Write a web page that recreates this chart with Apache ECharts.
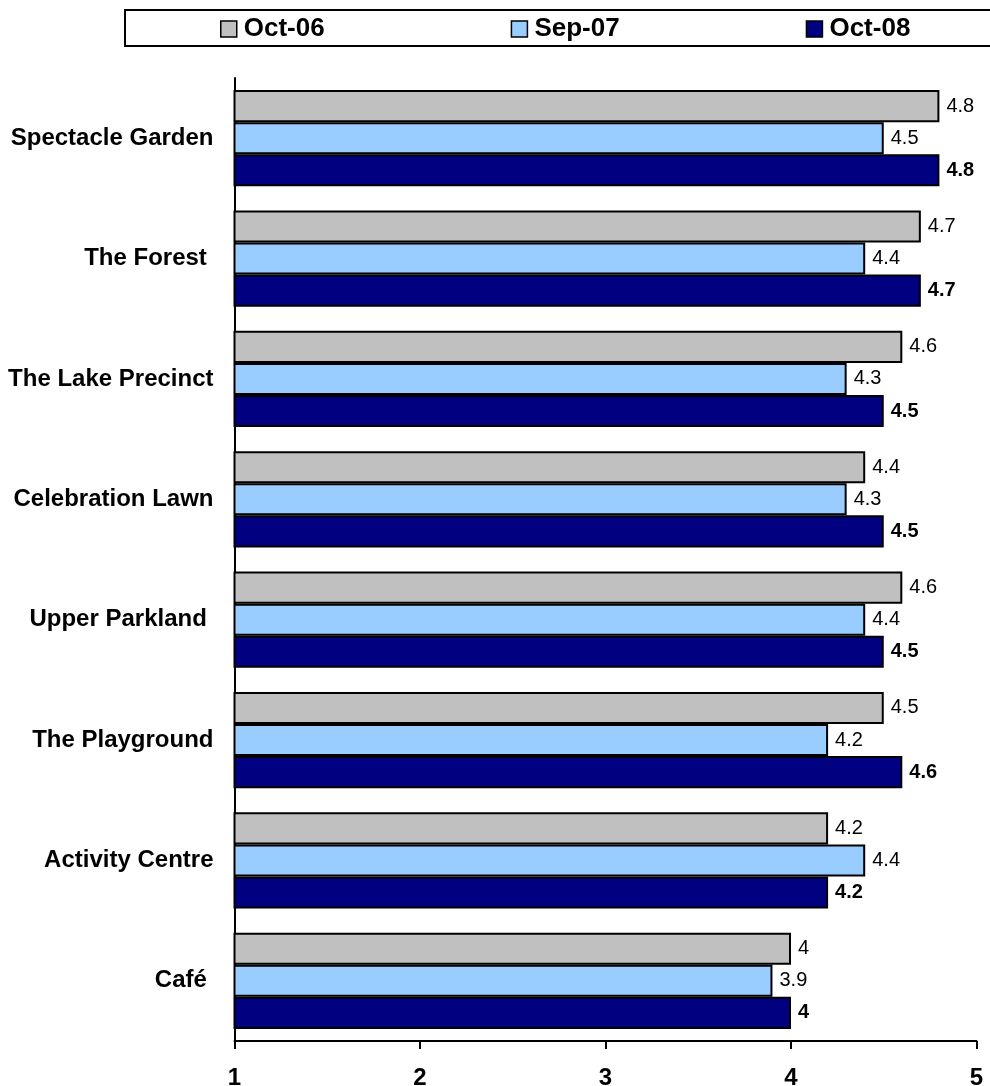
<!DOCTYPE html>
<html>
<head>
<meta charset="utf-8">
<title>Area ratings</title>
<script src="https://cdn.jsdelivr.net/npm/echarts@6/dist/echarts.min.js"></script>
<style>
  html, body { margin: 0; padding: 0; background: #fff; }
  #chart { width: 990px; height: 1086px; }
</style>
</head>
<body>
<div id="chart"></div>
<script>
// Park areas, top to bottom
const categories = [
  'Spectacle Garden',
  'The Forest ',
  'The Lake Precinct',
  'Celebration Lawn',
  'Upper Parkland ',
  'The Playground',
  'Activity Centre',
  'Café '
];

// Mean ratings per survey wave
const oct06 = [4.8, 4.7, 4.6, 4.4, 4.6, 4.5, 4.2, 4];
const sep07 = [4.5, 4.4, 4.3, 4.3, 4.4, 4.2, 4.4, 3.9];
const oct08 = [4.8, 4.7, 4.5, 4.5, 4.5, 4.6, 4.2, 4];

const seriesNames = ['Oct-06', 'Sep-07', 'Oct-08'];
const xTicks = [1, 2, 3, 4, 5];

const FONT = "'Liberation Sans', Arial, Helvetica, sans-serif";
const colors = ['#C0C0C0', '#99CCFF', '#000080'];

function barSeries(name, data, color, boldLabel) {
  return {
    name: name,
    type: 'bar',
    data: data,
    barGap: '0%',
    barCategoryGap: '20%',
    itemStyle: { color: color, borderColor: '#000', borderWidth: 2 },
    label: {
      show: true,
      position: 'right',
      distance: 7,
      color: '#000',
      fontFamily: FONT,
      fontSize: 20,
      fontWeight: boldLabel ? 'bold' : 'normal'
    },
    emphasis: { disabled: true },
    animation: false
  };
}

const chart = echarts.init(document.getElementById('chart'), null, { renderer: 'canvas' });

chart.setOption({
  backgroundColor: '#fff',
  animation: false,
  graphic: [{
    type: 'rect',
    z: -1,
    shape: { x: 125, y: 10, width: 900, height: 36 },
    style: { fill: '#fff', stroke: '#000', lineWidth: 2 }
  }],
  legend: {
    data: seriesNames,
    left: 220,
    top: 16,
    padding: 0,
    itemGap: 186,
    itemWidth: 16,
    itemHeight: 16,
    icon: 'rect',
    itemStyle: { borderColor: '#000', borderWidth: 1.5 },
    textStyle: {
      color: '#000',
      fontFamily: FONT,
      fontSize: 26,
      fontWeight: 'bold',
      padding: [0, 0, 0, 2]
    },
    selectedMode: false
  },
  grid: {
    left: 234.5,
    right: 13.5,
    top: 78,
    bottom: 45,
    containLabel: false,
    outerBoundsMode: 'none'
  },
  xAxis: {
    type: 'value',
    min: xTicks[0],
    max: xTicks[xTicks.length - 1],
    interval: 1,
    axisLine: { show: true, lineStyle: { color: '#000', width: 2 } },
    axisTick: { show: true, inside: false, length: 8, lineStyle: { color: '#000', width: 2 } },
    splitLine: { show: false },
    axisLabel: {
      margin: 25,
      color: '#000',
      fontFamily: FONT,
      fontSize: 24,
      fontWeight: 'bold'
    }
  },
  yAxis: {
    type: 'category',
    data: categories,
    inverse: true,
    axisLine: { show: true, lineStyle: { color: '#000', width: 2 } },
    axisTick: { show: false },
    splitLine: { show: false },
    axisLabel: {
      margin: 21,
      color: '#000',
      fontFamily: FONT,
      fontSize: 24,
      fontWeight: 'bold'
    }
  },
  series: [
    barSeries(seriesNames[0], oct06, colors[0], false),
    barSeries(seriesNames[1], sep07, colors[1], false),
    barSeries(seriesNames[2], oct08, colors[2], true)
  ]
});
</script>
</body>
</html>
